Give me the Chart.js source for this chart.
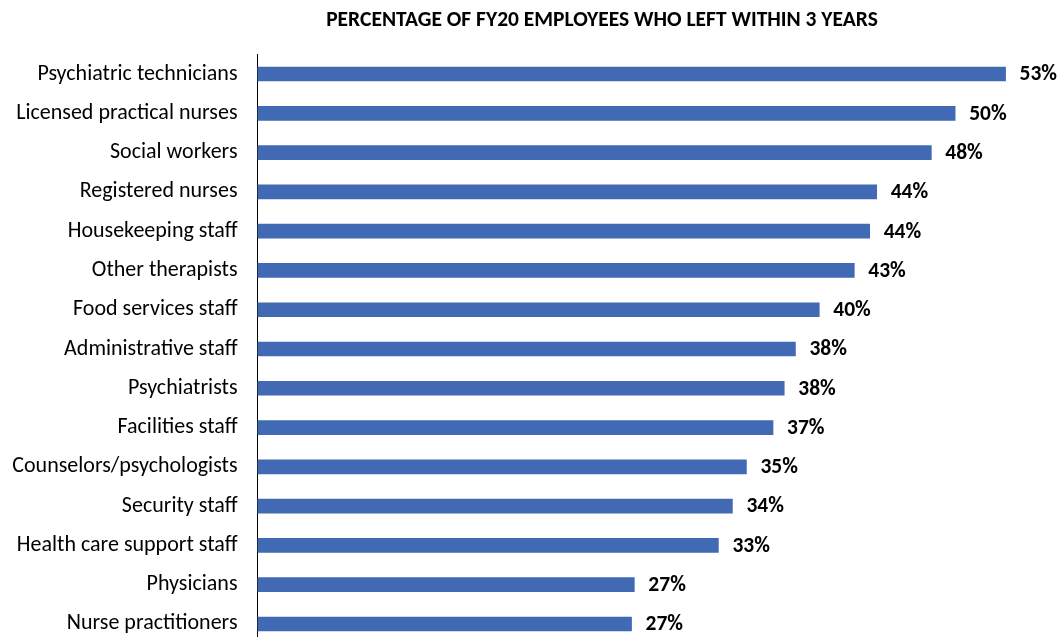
<!DOCTYPE html>
<html>
<head>
<meta charset="utf-8">
<script src="https://cdn.jsdelivr.net/npm/chart.js@4.4.1/dist/chart.umd.min.js"></script>
<style>
  html, body { margin: 0; padding: 0; background: #fff; overflow: hidden; }
  canvas { display: block; }
</style>
</head>
<body>
<canvas id="myChart" width="1059" height="650"></canvas>
<script>
const chartTitle = 'PERCENTAGE OF FY20 EMPLOYEES WHO LEFT WITHIN 3 YEARS';

const jobs = [
    'Psychiatric technicians',
    'Licensed practical nurses',
    'Social workers',
    'Registered nurses',
    'Housekeeping staff',
    'Other therapists',
    'Food services staff',
    'Administrative staff',
    'Psychiatrists',
    'Facilities staff',
    'Counselors/psychologists',
    'Security staff',
    'Health care support staff',
    'Physicians',
    'Nurse practitioners',
];

// share of FY20 hires gone within 3 years, in percent
const leftPct = [53.4, 49.8, 48.1, 44.2, 43.7, 42.6, 40.1, 38.4, 37.6, 36.8, 34.9, 33.9, 32.9, 26.9, 26.7];

const FONT = 'Carlito, Lato, "Open Sans", "Noto Sans", sans-serif';

// draws the rounded percentage just past the end of each bar
const valueLabels = {
    id: 'valueLabels',
    afterDatasetsDraw(chart) {
        const ctx = chart.ctx;
        const meta = chart.getDatasetMeta(0);
        ctx.save();
        ctx.font = 'bold 21.5px ' + FONT;
        ctx.fillStyle = '#000';
        ctx.textAlign = 'left';
        ctx.textBaseline = 'middle';
        meta.data.forEach((bar, i) => {
            ctx.fillText(Math.round(leftPct[i]) + '%', bar.x + 14, bar.y + 1);
        });
        ctx.restore();
    },
};

const titlePlugin = {
    id: 'titlePlugin',
    afterDraw(chart) {
        const ctx = chart.ctx;
        ctx.save();
        ctx.font = 'bold 21.5px ' + FONT;
        ctx.fillStyle = '#000';
        ctx.textAlign = 'center';
        ctx.textBaseline = 'middle';
        ctx.fillText(chartTitle, 602, 21);
        ctx.restore();
    },
};

new Chart(document.getElementById('myChart'), {
    type: 'bar',
    data: {
        labels: jobs,
        datasets: [
            {
                label: chartTitle,
                data: leftPct,
                backgroundColor: '#4169b4',
                borderWidth: 0,
                barThickness: 14,
            },
        ],
    },
    options: {
        indexAxis: 'y',
        responsive: false,
        animation: false,
        layout: {
            padding: { top: 54.4, bottom: 6.4, left: 0, right: 17 },
        },
        plugins: {
            legend: { display: false },
            tooltip: { enabled: false },
            title: { display: false },
        },
        scales: {
            x: {
                display: false,
                min: 0,
                max: 56,
            },
            y: {
                grid: { display: false, drawTicks: false },
                border: { display: true, color: '#000', width: 1 },
                ticks: {
                    color: '#000',
                    padding: 20,
                    font: { family: FONT, size: 22 },
                },
                afterFit(scale) {
                    scale.width = 257.5;
                    // tick padding would otherwise push the plot area in from top/bottom
                    scale.paddingTop = 0;
                    scale.paddingBottom = 0;
                },
            },
        },
    },
    plugins: [valueLabels, titlePlugin],
});
</script>
</body>
</html>
